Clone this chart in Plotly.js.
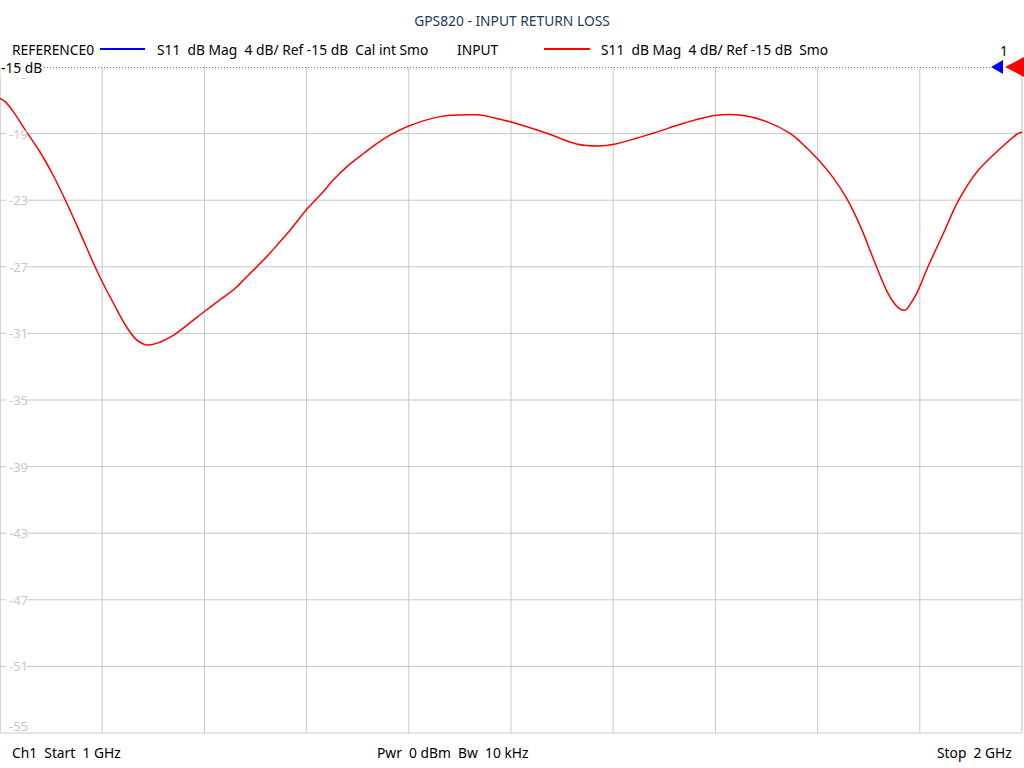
<!DOCTYPE html>
<html>
<head>
<meta charset="utf-8">
<script src="https://cdn.plot.ly/plotly-3.0.1.min.js"></script>
<style>html,body{margin:0;padding:0;background:#fff;}#chart{width:1024px;height:768px;}</style>
</head>
<body>
<div id="chart"></div>
<script>
// Frequency (MHz) and S11 magnitude (dB)
var freqMHz = [1000,1005,1013,1026,1039,1052,1064,1078,1093,1100,1111,1124,1134,1144,1153,1170,1183,1201,1218,1230,1240,1254,1264,1272,1284,1301,1316,1326,1342,1356,1369,1382,1400,1431,1453,1470,1489,1501,1535,1564,1586,1601,1639,1669,1701,1726,1750,1773,1783,1801,1815,1829,1842,1855,1868,1875,1881,1886,1890,1897,1908,1923,1938,1956,1979,1996,2000];
var s11dB = [-16.88,-17.08,-17.68,-18.9,-20.09,-21.5,-23.0,-24.9,-27.0,-27.9,-29.19,-30.63,-31.40,-31.70,-31.60,-31.10,-30.50,-29.64,-28.85,-28.30,-27.69,-26.83,-26.19,-25.63,-24.79,-23.49,-22.51,-21.79,-20.85,-20.18,-19.58,-19.08,-18.54,-17.98,-17.88,-17.88,-18.14,-18.32,-18.98,-19.62,-19.74,-19.64,-18.98,-18.38,-17.90,-17.90,-18.28,-18.98,-19.49,-20.59,-21.63,-22.95,-24.59,-26.59,-28.49,-29.19,-29.55,-29.6,-29.3,-28.6,-27.0,-25.0,-23.0,-21.29,-19.88,-19.0,-18.92];
var yTicks = [-15,-19,-23,-27,-31,-35,-39,-43,-47,-51,-55];
var xTicks = [1000,1100,1200,1300,1400,1500,1600,1700,1800,1900,2000];
var chartTitle = "GPS820 - INPUT RETURN LOSS";
var legendItems = [
  {name: "REFERENCE0", desc: "S11  dB Mag  4 dB/ Ref -15 dB  Cal int Smo", color: "#0000ff"},
  {name: "INPUT", desc: "S11  dB Mag  4 dB/ Ref -15 dB  Smo", color: "#ff0000"}
];
var footerLeft = "Ch1  Start  1 GHz";
var footerMid = "Pwr  0 dBm  Bw  10 kHz";
var footerRight = "Stop  2 GHz";
var refLabel = "-15 dB";

var font = "Noto Sans, Open Sans, sans-serif";
var FS = 13.8;
var W = 1022; // plot width in px
var H = 666;  // plot height in px

var traces = [{
  x: freqMHz, y: s11dB, type: "scatter", mode: "lines",
  line: {color: "#ff0000", width: 1.5, shape: "spline", smoothing: 1},
  showlegend: false, hoverinfo: "x+y"
}];

var annotations = [];
var shapes = [];
var gridColor = "#c8c8c8";

// horizontal gridlines, broken where the inside tick label sits
yTicks.forEach(function(v){
  if (v === -15 || v === -55) return;
  shapes.push({type:"line", xref:"paper", yref:"y", x0:0, x1:6/W, y0:v, y1:v, line:{color:gridColor, width:1}, layer:"below"});
  shapes.push({type:"line", xref:"paper", yref:"y", x0:27/W, x1:1, y0:v, y1:v, line:{color:gridColor, width:1}, layer:"below"});
});
// vertical gridlines
xTicks.forEach(function(f){
  shapes.push({type:"line", xref:"x", yref:"paper", x0:f, x1:f, y0:0, y1:1, line:{color:gridColor, width:1}, layer:"below"});
});
// bottom frame
shapes.push({type:"line", xref:"paper", yref:"paper", x0:0, x1:1, y0:0, y1:0, line:{color:gridColor, width:1}, layer:"below"});

// y tick labels inside the plot
yTicks.forEach(function(v){
  var ys = (v === -15) ? -7 : (v === -55 ? 7 : 0);
  annotations.push({xref:"paper", yref:"y", x:7/W, y:v, yshift:ys, text:String(v), showarrow:false,
    xanchor:"left", yanchor:"middle", font:{family:font, size:13, color:"#c8c8c8"}});
});
// -15 dB reference label
annotations.push({xref:"paper", yref:"y", x:0, y:-15, text:refLabel, showarrow:false, xanchor:"left", yanchor:"middle",
  bgcolor:"#ffffff", borderpad:0, font:{family:font, size:FS, color:"#000"}});
// legend texts
var rowShift = 18;
annotations.push({xref:"paper", yref:"paper", x:10/W, y:1, yshift:rowShift, text:legendItems[0].name, showarrow:false, xanchor:"left", yanchor:"middle", font:{family:font, size:FS, color:"#000"}});
annotations.push({xref:"paper", yref:"paper", x:155/W, y:1, yshift:rowShift, text:legendItems[0].desc, showarrow:false, xanchor:"left", yanchor:"middle", font:{family:font, size:FS, color:"#000"}});
annotations.push({xref:"paper", yref:"paper", x:455/W, y:1, yshift:rowShift, text:legendItems[1].name, showarrow:false, xanchor:"left", yanchor:"middle", font:{family:font, size:FS, color:"#000"}});
annotations.push({xref:"paper", yref:"paper", x:599/W, y:1, yshift:rowShift, text:legendItems[1].desc, showarrow:false, xanchor:"left", yanchor:"middle", font:{family:font, size:FS, color:"#000"}});
annotations.push({xref:"paper", yref:"paper", x:1004/W, y:1, yshift:17, text:"1", showarrow:false, xanchor:"center", yanchor:"middle", font:{family:font, size:FS, color:"#000"}});
// footer
annotations.push({xref:"paper", yref:"paper", x:10/W, y:0, yshift:-19, text:footerLeft, showarrow:false, xanchor:"left", yanchor:"middle", font:{family:font, size:FS, color:"#000"}});
annotations.push({xref:"paper", yref:"paper", x:375/W, y:0, yshift:-19, text:footerMid, showarrow:false, xanchor:"left", yanchor:"middle", font:{family:font, size:FS, color:"#000"}});
annotations.push({xref:"paper", yref:"paper", x:1014/W, y:0, yshift:-19, text:footerRight, showarrow:false, xanchor:"right", yanchor:"middle", font:{family:font, size:FS, color:"#000"}});

var rowY = 1 + (67-49)/H;
shapes.push(
  // dotted reference line at top
  {type:"line", xref:"paper", yref:"y", x0:44/W, x1:990/W, y0:-15, y1:-15, line:{color:"#000", width:1, dash:"1px,2px"}},
  // left/right frame
  {type:"line", xref:"paper", yref:"paper", x0:0, x1:0, y0:0, y1:1, line:{color:gridColor, width:1}, layer:"below"},
  {type:"line", xref:"paper", yref:"paper", x0:1, x1:1, y0:0, y1:1, line:{color:gridColor, width:1}, layer:"below"},
  // legend line samples
  {type:"line", xref:"paper", yref:"paper", x0:100/W, x1:145/W, y0:rowY, y1:rowY, line:{color:legendItems[0].color, width:2}},
  {type:"line", xref:"paper", yref:"paper", x0:544/W, x1:590/W, y0:rowY, y1:rowY, line:{color:legendItems[1].color, width:2}},
  // reference markers
  {type:"path", xref:"paper", yref:"paper", path:"M " + (991/W) + " 1 L " + (1003/W) + " " + (1+7/H) + " L " + (1003/W) + " " + (1-7/H) + " Z", fillcolor:legendItems[0].color, line:{width:0}},
  {type:"path", xref:"paper", yref:"paper", path:"M " + (1005/W) + " 1 L " + (1024/W) + " " + (1+10/H) + " L " + (1024/W) + " " + (1-10/H) + " Z", fillcolor:legendItems[1].color, line:{width:0}}
);

var layout = {
  width: 1024, height: 768,
  margin: {l:0, r:2, t:67, b:35},
  paper_bgcolor: "#ffffff", plot_bgcolor: "rgba(0,0,0,0)",
  title: {text: chartTitle, x:0.5, xanchor:"center", y:1-21/768, yanchor:"middle", font:{family:font, size:FS, color:"#1f3a5a"}},
  xaxis: {range:[1000,2000], showticklabels:false, ticks:"", showgrid:false, zeroline:false, showline:false, fixedrange:true},
  yaxis: {range:[-55,-15], showticklabels:false, ticks:"", showgrid:false, zeroline:false, showline:false, fixedrange:true},
  annotations: annotations,
  shapes: shapes,
  showlegend: false
};

Plotly.newPlot("chart", traces, layout, {displayModeBar:false, staticPlot:true});
</script>
</body>
</html>
